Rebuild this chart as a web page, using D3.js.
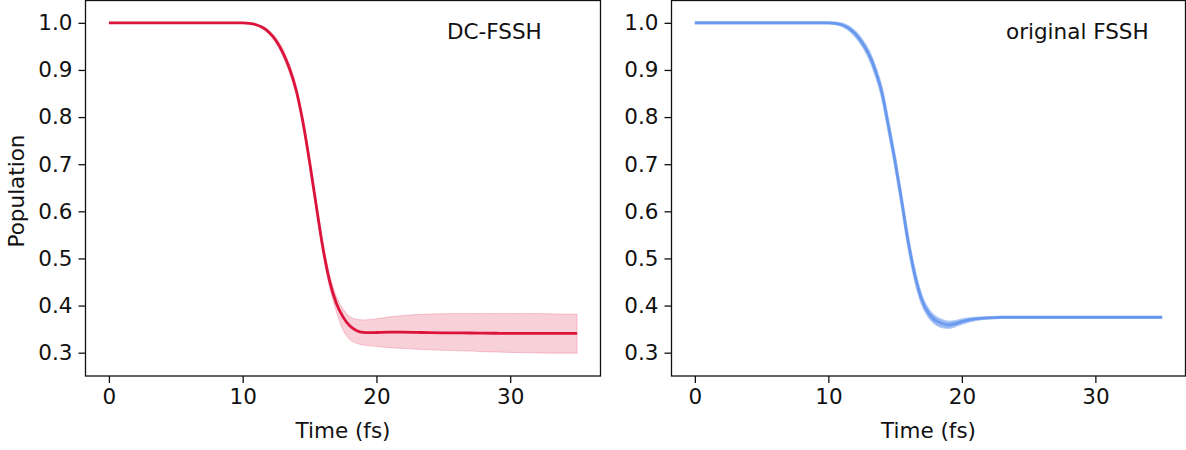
<!DOCTYPE html>
<html><head><meta charset="utf-8">
<script src="https://cdn.jsdelivr.net/npm/d3@7"></script>
<style>
body{margin:0;background:#fff}
svg{display:block}
text{font-family:"DejaVu Sans",sans-serif;fill:#111}
</style>
</head><body>
<svg id="c" width="1186" height="450"></svg>
<script>
// ---------- data ----------
const timeDC = [0,5,10,10.5,11,11.5,12,12.5,13,13.5,14,14.5,15,15.5,16,16.5,17,17.5,18,18.5,19,19.5,
  20,21,22,23,24,25,26,27,28,29,30,31,32,33,34,35];
const meanDC = [1,1,1,0.999,0.996,0.99,0.979,0.962,0.937,0.903,0.857,0.79,0.705,0.612,0.522,0.452,0.405,0.376,0.357,0.347,0.343,0.3425,
  0.3428,0.3434,0.3435,0.343,0.3425,0.3422,0.342,0.3418,0.3415,0.3412,0.341,0.341,0.341,0.341,0.341,0.341];
const upperDC = [1,1,1,1.0,0.998,0.993,0.983,0.968,0.945,0.912,0.867,0.801,0.717,0.625,0.535,0.466,0.42,0.393,0.377,0.371,0.3695,0.3705,
  0.372,0.376,0.379,0.381,0.382,0.3825,0.383,0.383,0.383,0.383,0.383,0.383,0.383,0.3825,0.382,0.382];
const lowerDC = [1,1,1,0.998,0.994,0.987,0.975,0.956,0.929,0.894,0.847,0.779,0.693,0.599,0.509,0.438,0.388,0.348,0.328,0.32,0.3165,0.3145,
  0.313,0.3105,0.309,0.3075,0.306,0.305,0.304,0.3035,0.302,0.3015,0.3005,0.3,0.2995,0.299,0.299,0.299];

const timeFS = [0,5,10,10.5,11,11.5,12,12.5,13,13.5,14,14.5,15,15.5,16,16.5,17,17.5,18,18.5,19,19.5,
  20,21,22,23,24,25,26,27,28,29,30,31,32,33,34,35];
const meanFS = [1,1,1,0.999,0.996,0.989,0.977,0.959,0.935,0.9,0.853,0.781,0.705,0.62,0.532,0.462,0.412,0.384,0.369,0.362,0.359,0.3615,
  0.366,0.3715,0.374,0.375,0.375,0.375,0.375,0.375,0.375,0.375,0.375,0.375,0.375,0.375,0.375,0.375];
const upperFS = [1,1,1,1.0,0.998,0.992,0.981,0.964,0.941,0.907,0.86,0.788,0.712,0.627,0.539,0.469,0.419,0.391,0.376,0.369,0.365,0.3665,
  0.37,0.3735,0.375,0.376,0.376,0.376,0.376,0.376,0.376,0.376,0.376,0.376,0.376,0.376,0.376,0.376];
const lowerFS = [1,1,1,0.998,0.994,0.986,0.973,0.954,0.929,0.893,0.846,0.774,0.698,0.613,0.525,0.455,0.405,0.377,0.362,0.355,0.353,0.3565,
  0.362,0.3695,0.373,0.374,0.374,0.374,0.374,0.374,0.374,0.374,0.374,0.374,0.374,0.374,0.374,0.374];

const xTicks = [0, 10, 20, 30];
const yTicks = [0.3, 0.4, 0.5, 0.6, 0.7, 0.8, 0.9, 1.0];
const panelTitles = ["DC-FSSH", "original FSSH"];
const xLabel = "Time (fs)";
const yLabel = "Population";

// ---------- layout ----------
const FS = "21.5px";
const svg = d3.select("#c");
const plotTop = 0.5, plotBottom = 376;
const panels = [
  {x0: 85.5, x1: 600.5, t: timeDC, m: meanDC, u: upperDC, l: lowerDC, color: "#DC143C", title: panelTitles[0], tx: 447, ylab: true},
  {x0: 671.5, x1: 1185.5, t: timeFS, m: meanFS, u: upperFS, l: lowerFS, color: "#6495ED", title: panelTitles[1], tx: 1006, ylab: false}
];
const y = d3.scaleLinear().domain([0.2505, 1.0474]).range([plotBottom, plotTop]);

panels.forEach((p, pi) => {
  const x = d3.scaleLinear().domain([-1.75, 36.75]).range([p.x0, p.x1]);
  const g = svg.append("g");
  const idx = d3.range(p.t.length);

  const area = d3.area().curve(d3.curveMonotoneX)
    .x(i => x(p.t[i])).y0(i => y(p.l[i])).y1(i => y(p.u[i]));
  const line = arr => d3.line().curve(d3.curveMonotoneX).x(i => x(p.t[i])).y(i => y(arr[i]));

  if (pi === 0) {
    g.append("path").attr("d", area(idx)).attr("fill", p.color).attr("fill-opacity", 0.2)
      .attr("stroke", p.color).attr("stroke-opacity", 0.2).attr("stroke-width", 1);
    g.append("path").attr("d", line(p.m)(idx)).attr("fill", "none")
      .attr("stroke", p.color).attr("stroke-width", 2.8);
  } else {
    g.append("path").attr("d", area(idx)).attr("fill", p.color).attr("fill-opacity", 0.45);
    [p.u, p.l].forEach(arr => g.append("path").attr("d", line(arr)(idx)).attr("fill", "none")
      .attr("stroke", p.color).attr("stroke-opacity", 0.5).attr("stroke-width", 2.6));
    g.append("path").attr("d", line(p.m)(idx)).attr("fill", "none")
      .attr("stroke", p.color).attr("stroke-opacity", 0.9).attr("stroke-width", 2.8);
  }

  // frame
  g.append("rect").attr("x", p.x0).attr("y", plotTop).attr("width", p.x1 - p.x0).attr("height", plotBottom - plotTop)
    .attr("fill", "none").attr("stroke", "#111").attr("stroke-width", 1.3);

  // axes
  const ax = g.append("g").attr("transform", `translate(0,${plotBottom})`)
    .call(d3.axisBottom(x).tickValues(xTicks).tickFormat(d3.format("d")).tickSize(7).tickPadding(6));
  const ay = g.append("g").attr("transform", `translate(${p.x0},0)`)
    .call(d3.axisLeft(y).tickValues(yTicks).tickFormat(d3.format(".1f")).tickSize(7).tickPadding(6));
  [ax, ay].forEach(a => {
    a.select(".domain").remove();
    a.selectAll("line").attr("stroke", "#111").attr("stroke-width", 1.3);
    a.selectAll("text").style("font-family", '"DejaVu Sans", sans-serif').style("font-size", FS).attr("fill", "#111");
  });

  g.append("text").attr("x", (p.x0 + p.x1) / 2).attr("y", 438).attr("text-anchor", "middle")
    .style("font-size", FS).text(xLabel);
  g.append("text").attr("x", p.tx).attr("y", 39).style("font-size", FS).text(p.title);
  if (p.ylab) {
    g.append("text").attr("transform", "translate(24,191) rotate(-90)").attr("text-anchor", "middle")
      .style("font-size", FS).text(yLabel);
  }
});
</script>
</body></html>
